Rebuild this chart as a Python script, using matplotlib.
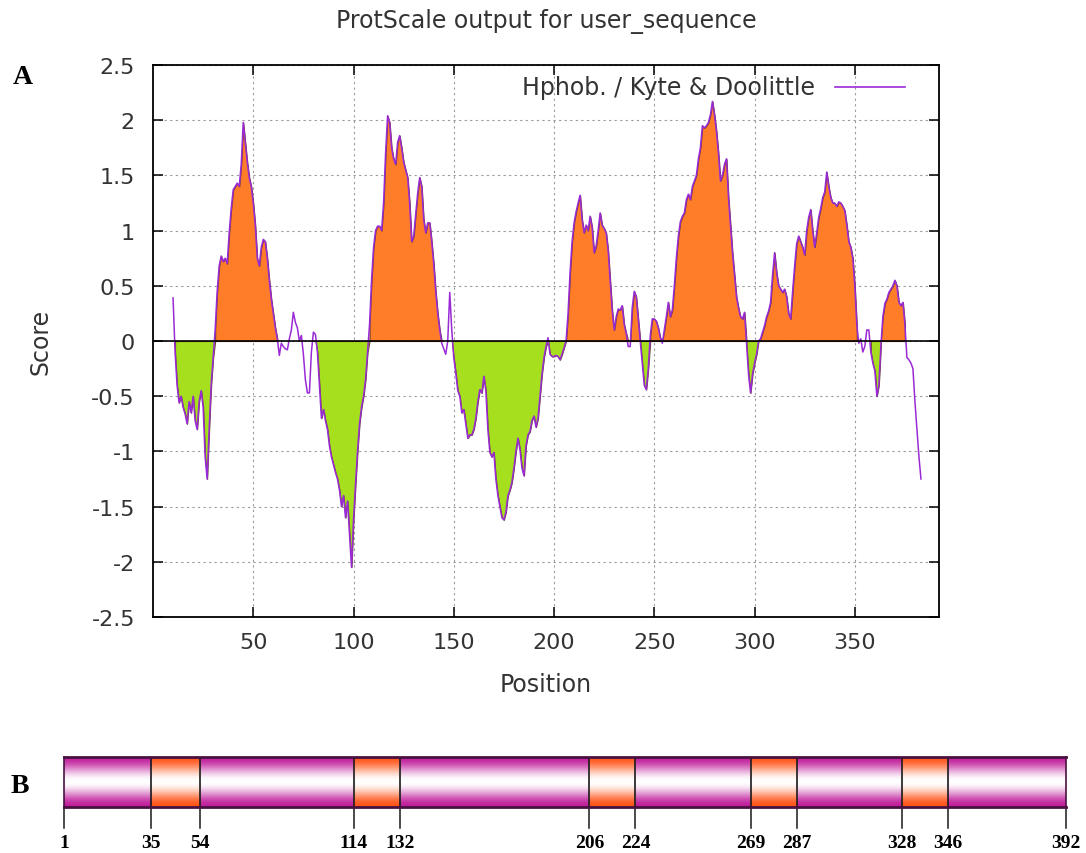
import numpy as np
import matplotlib.pyplot as plt
from matplotlib.colors import to_rgb

# Kyte & Doolittle hydropathy scores, window 19, positions 10..383
start_pos = 10
scores = [
    0.39, -0.10, -0.40, -0.56, -0.50, -0.60, -0.66, -0.75, -0.55, -0.65,
    -0.50, -0.72, -0.80, -0.55, -0.45, -0.60, -1.05, -1.25, -0.80, -0.40,
    -0.15, 0.10, 0.45, 0.68, 0.77, 0.72, 0.75, 0.70, 0.98, 1.20,
    1.37, 1.40, 1.43, 1.40, 1.60, 1.98, 1.80, 1.62, 1.48, 1.40,
    1.25, 1.05, 0.75, 0.68, 0.85, 0.92, 0.90, 0.75, 0.55, 0.38,
    0.25, 0.12, 0.02, -0.13, -0.02, -0.05, -0.07, -0.08, 0.02, 0.10,
    0.26, 0.17, 0.12, 0.00, 0.05, -0.12, -0.35, -0.47, -0.47, -0.10,
    0.08, 0.06, -0.10, -0.40, -0.70, -0.62, -0.72, -0.80, -0.95, -1.05,
    -1.12, -1.19, -1.25, -1.35, -1.50, -1.40, -1.60, -1.45, -1.75, -2.05,
    -1.62, -1.30, -1.00, -0.75, -0.60, -0.50, -0.35, -0.10, 0.15, 0.55,
    0.85, 1.00, 1.04, 1.04, 1.00, 1.25, 1.70, 2.04, 1.98, 1.75,
    1.65, 1.60, 1.80, 1.86, 1.75, 1.62, 1.55, 1.48, 1.25, 0.90,
    0.95, 1.15, 1.34, 1.48, 1.40, 1.10, 0.98, 1.07, 1.07, 0.90,
    0.70, 0.45, 0.25, 0.10, -0.02, -0.07, -0.12, 0.00, 0.44, 0.10,
    -0.15, -0.29, -0.45, -0.50, -0.65, -0.62, -0.75, -0.88, -0.85, -0.85,
    -0.80, -0.70, -0.55, -0.44, -0.47, -0.32, -0.45, -0.80, -1.01, -1.05,
    -1.01, -1.25, -1.40, -1.50, -1.60, -1.62, -1.55, -1.40, -1.35, -1.28,
    -1.15, -1.00, -0.88, -0.98, -1.15, -1.22, -0.95, -0.85, -0.82, -0.72,
    -0.68, -0.78, -0.70, -0.50, -0.30, -0.15, -0.05, 0.03, -0.12, -0.14,
    -0.14, -0.13, -0.14, -0.17, -0.12, -0.06, 0.00, 0.25, 0.62, 0.90,
    1.07, 1.17, 1.25, 1.32, 1.10, 0.98, 1.05, 1.00, 1.13, 1.03,
    0.80, 0.86, 1.00, 1.16, 1.05, 1.02, 0.98, 0.82, 0.55, 0.28,
    0.10, 0.22, 0.29, 0.28, 0.32, 0.15, 0.07, -0.05, -0.05, 0.30,
    0.45, 0.40, 0.20, 0.00, -0.20, -0.40, -0.44, -0.25, 0.05, 0.20,
    0.20, 0.18, 0.12, 0.03, -0.02, 0.10, 0.22, 0.35, 0.22, 0.28,
    0.50, 0.75, 0.95, 1.08, 1.13, 1.16, 1.28, 1.33, 1.28, 1.40,
    1.45, 1.50, 1.65, 1.75, 1.95, 1.93, 1.95, 1.98, 2.05, 2.17,
    2.05, 1.90, 1.70, 1.45, 1.50, 1.60, 1.65, 1.30, 1.05, 0.80,
    0.60, 0.40, 0.30, 0.22, 0.20, 0.26, -0.02, -0.30, -0.47, -0.30,
    -0.20, -0.12, 0.00, 0.02, 0.08, 0.14, 0.22, 0.27, 0.35, 0.60,
    0.80, 0.62, 0.50, 0.47, 0.44, 0.47, 0.40, 0.25, 0.20, 0.45,
    0.68, 0.88, 0.95, 0.90, 0.85, 0.78, 1.00, 1.12, 1.19, 1.00,
    0.85, 0.98, 1.12, 1.20, 1.30, 1.35, 1.53, 1.40, 1.30, 1.25,
    1.25, 1.22, 1.26, 1.25, 1.22, 1.18, 1.05, 0.90, 0.85, 0.75,
    0.50, 0.15, -0.02, 0.02, -0.10, -0.05, 0.10, 0.10, -0.10, -0.20,
    -0.27, -0.50, -0.40, -0.05, 0.22, 0.34, 0.38, 0.44, 0.47, 0.50,
    0.55, 0.50, 0.35, 0.32, 0.35, 0.15, -0.15, -0.17, -0.20, -0.25,
    -0.55, -0.80, -1.05, -1.25,
]

# shaded stretches of the profile
green_spans = [(11, 31), (80, 108), (149, 197), (197, 206), (243, 248), (296, 302), (358, 363)]
orange_spans = [(31, 62), (108, 144), (206, 243), (248, 296), (302, 351), (363, 375)]

# panel B: predicted transmembrane segments
seq_length = 392
tm_segments = [(35, 54), (114, 132), (206, 224), (269, 287), (328, 346)]
bar_ticks = [1, 35, 54, 114, 132, 206, 224, 269, 287, 328, 346, 392]

positions = np.arange(start_pos, start_pos + len(scores))
scores = np.array(scores)

W, H = 1086, 854
fig = plt.figure(figsize=(W / 100, H / 100), dpi=100)

# ---------- panel A ----------
ax = fig.add_axes([153 / W, 1 - 618 / H, 786 / W, 552 / H])
ax.set_axisbelow(True)

for a, b in green_spans:
    m = (positions >= a) & (positions <= b)
    ax.fill_between(positions[m], np.minimum(scores[m], 0), 0,
                    facecolor='#a6df1e', edgecolor='#6a4a28', lw=0.8, zorder=2)
for a, b in orange_spans:
    m = (positions >= a) & (positions <= b)
    ax.fill_between(positions[m], np.maximum(scores[m], 0), 0,
                    facecolor='#ff7d28', edgecolor='#6a3a20', lw=0.8, zorder=2)

ax.plot(positions, scores, color='#9a2ad6', lw=1.1, zorder=3)
ax.axhline(0, color='black', lw=1.2, zorder=4)

ax.set_xlim(0, seq_length)
ax.set_ylim(-2.5, 2.5)
ax.set_xticks(range(50, 351, 50))
ax.set_yticks(np.arange(-2.5, 2.51, 0.5))
ax.set_yticklabels(['-2.5', '-2', '-1.5', '-1', '-0.5', '0', '0.5', '1', '1.5', '2', '2.5'])
ax.grid(True, color='#9a9a9a', linestyle=(0, (2, 3)), lw=0.8)
ax.tick_params(direction='in', length=7, width=1.1, top=True, right=True,
               labelsize=16, labelcolor='#333333')
ax.tick_params(axis='y', pad=13)
ax.tick_params(axis='x', pad=11)
for s in ax.spines.values():
    s.set_linewidth(1.3)

ax.set_xlabel('Position', fontsize=17, color='#333333', labelpad=14)
ax.set_ylabel('Score', fontsize=17, color='#333333', labelpad=28)
fig.text(546 / W, 1 - 22 / H, 'ProtScale output for user_sequence',
         ha='center', va='center', fontsize=17, color='#333333')

# legend, gnuplot style: text then line sample
ax.text(0.842, 0.960, 'Hphob. / Kyte & Doolittle', transform=ax.transAxes,
        ha='right', va='center', fontsize=17, color='#333333')
ax.plot([0.868, 0.957], [0.960, 0.960], transform=ax.transAxes,
        color='#9a2ad6', lw=1.2)

fig.text(23 / W, 1 - 78 / H, 'A', ha='center', va='center', fontsize=20,
         fontweight='bold', family='Liberation Serif')
fig.text(20 / W, 1 - 787 / H, 'B', ha='center', va='center', fontsize=20,
         fontweight='bold', family='Liberation Serif')

# ---------- panel B ----------
bx = fig.add_axes([64 / W, 1 - 808 / H, 1002 / W, 50 / H])
bx.set_xlim(1, seq_length)
bx.set_ylim(0, 1)

rows, cols = 80, 1200
t = np.linspace(0, 1, rows)
white = np.sin(np.pi * t) ** 2
col_pos = np.linspace(1, seq_length, cols)
is_tm = np.zeros(cols, dtype=bool)
for a, b in tm_segments:
    is_tm |= (col_pos >= a) & (col_pos <= b)
magenta = np.array(to_rgb('#c01f9c'))
orange = np.array(to_rgb('#ff5418'))
base = np.where(is_tm[None, :, None], orange, magenta)
img = base * (1 - white[:, None, None]) + np.ones(3) * white[:, None, None]
img = np.clip(img, 0, 1)
bx.imshow(img, extent=(1, seq_length, 0, 1), aspect='auto', origin='lower',
          interpolation='bilinear')

for a, b in tm_segments:
    bx.vlines([a, b], 0, 1, color='#1a1a1a', lw=1.2)
for s in ['top', 'bottom']:
    bx.spines[s].set_color('#4a1040')
    bx.spines[s].set_linewidth(2)
for s in ['left', 'right']:
    bx.spines[s].set_color('#4a1040')
    bx.spines[s].set_linewidth(1.2)
bx.set_xticks([])
bx.set_yticks([])

for p in bar_ticks:
    bx.plot([p, p], [0, -0.42], color='#1a1a1a', lw=1.1, clip_on=False)
    bx.text(p, -0.72, str(p), ha='center', va='center', fontsize=14,
            fontweight='bold', family='Liberation Serif')

fig.savefig('out.png', dpi=100)
